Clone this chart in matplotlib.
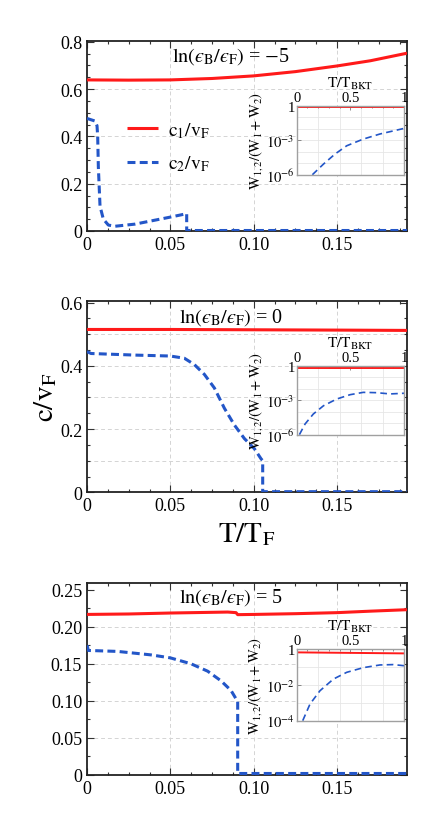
import matplotlib
matplotlib.use("Agg")
import matplotlib.pyplot as plt
from matplotlib.ticker import AutoMinorLocator, FixedLocator, FixedFormatter, MultipleLocator

plt.rcParams['font.family'] = ['Liberation Serif', 'DejaVu Serif']
plt.rcParams['mathtext.fontset'] = 'stix'

RED = '#ff1a1a'
BLUE = '#2356c8'

# ---------------- data ----------------
# Panel 1: ln(eB/eF) = -5
t1_c1 = [0, 0.025, 0.05, 0.075, 0.10, 0.125, 0.15, 0.17, 0.192]
c1_p1 = [0.639, 0.638, 0.639, 0.645, 0.656, 0.674, 0.698, 0.720, 0.752]
t1_c2 = [0, 0.0048, 0.0060, 0.0064, 0.0068, 0.0078, 0.0098, 0.0128, 0.0168,
         0.0288, 0.0388, 0.0488, 0.0590, 0.0598, 0.0598, 0.192]
c2_p1 = [0.476, 0.465, 0.445, 0.40, 0.27, 0.105, 0.050, 0.025, 0.020,
         0.029, 0.043, 0.057, 0.072, 0.074, 0.002, 0.002]
i1_x_c1 = [0, 1.0]
i1_w1 = [0.72, 0.72]
i1_x_c2 = [0.146, 0.25, 0.357, 0.466, 0.62, 0.776, 1.0]
i1_w2 = [1.0e-6, 8.5e-6, 6.3e-5, 3.3e-4, 1.26e-3, 3.5e-3, 1.07e-2]

# Panel 2: ln(eB/eF) = 0
t2_c1 = [0, 0.05, 0.10, 0.15, 0.192]
c1_p2 = [0.515, 0.515, 0.514, 0.513, 0.512]
t2_c2 = [0, 0.0024, 0.0284, 0.05, 0.0584, 0.0644, 0.0704, 0.0764, 0.0824,
         0.0884, 0.0944, 0.1004, 0.1044, 0.1054, 0.1054, 0.192]
c2_p2 = [0.445, 0.439, 0.434, 0.431, 0.424, 0.404, 0.373, 0.330, 0.266,
         0.213, 0.170, 0.138, 0.106, 0.100, 0.002, 0.002]
i2_x_c1 = [0, 1.0]
i2_w1 = [0.68, 0.68]
i2_x_c2 = [0.025, 0.078, 0.155, 0.25, 0.373, 0.497, 0.62, 0.745, 0.87, 1.0]
i2_w2 = [1.0e-6, 8.5e-6, 6.3e-5, 3.3e-4, 1.26e-3, 3.0e-3, 4.8e-3, 4.5e-3, 3.5e-3, 4.0e-3]

# Panel 3: ln(eB/eF) = 5
t3_c1 = [0, 0.025, 0.05, 0.0844, 0.0894, 0.0904, 0.10, 0.125, 0.15, 0.17, 0.192]
c1_p3 = [0.2166, 0.2172, 0.2185, 0.2198, 0.2190, 0.2163, 0.2166, 0.2176, 0.2190, 0.2210, 0.2230]
t3_c2 = [0, 0.0008, 0.0184, 0.0384, 0.05, 0.0624, 0.0724, 0.0804, 0.0864,
         0.0894, 0.0904, 0.0904, 0.192]
c2_p3 = [0.175, 0.168, 0.1667, 0.162, 0.158, 0.150, 0.140, 0.127, 0.114,
         0.1027, 0.100, 0.002, 0.002]
i3_x_c1 = [0, 1.0]
i3_w1 = [0.65, 0.57]
i3_x_c2 = [0.056, 0.124, 0.217, 0.342, 0.466, 0.62, 0.776, 0.9, 1.0]
i3_w2 = [1.0e-4, 8.5e-4, 4.7e-3, 2.1e-2, 5.0e-2, 9.1e-2, 0.129, 0.135, 0.117]

EPS = '\u03f5'
panel_titles = [r'$\mathrm{ln}(' + EPS + r'_\mathrm{B}/' + EPS + r'_\mathrm{F})$ = $-$5',
                r'$\mathrm{ln}(' + EPS + r'_\mathrm{B}/' + EPS + r'_\mathrm{F})$ = 0',
                r'$\mathrm{ln}(' + EPS + r'_\mathrm{B}/' + EPS + r'_\mathrm{F})$ = 5']
title_y = [0.92, 0.92, 0.93]
x_ticks = [0, 0.05, 0.10, 0.15]
x_ticklabels = ['0', '0.05', '0.10', '0.15']
y_ticks = [[0, 0.2, 0.4, 0.6, 0.8], [0, 0.2, 0.4, 0.6], [0, 0.05, 0.10, 0.15, 0.20, 0.25]]
y_ticklabels = [['0', '0.2', '0.4', '0.6', '0.8'], ['0', '0.2', '0.4', '0.6'],
                ['0', '0.05', '0.10', '0.15', '0.20', '0.25']]
y_lims = [(0, 0.805), (0, 0.605), (0, 0.259)]
y_minor_sub = [4, 4, 2]
grid_y = [[0.2, 0.4, 0.6], [0.1, 0.2, 0.3, 0.4, 0.5], [0.05, 0.10, 0.15, 0.20]]
inset_yticks = [[1e-6, 1e-3, 1], [1e-6, 1e-3, 1], [1e-4, 1e-2, 1]]
inset_yticklabels = [[r'$10^{-6}$', r'$10^{-3}$', '1'], [r'$10^{-6}$', r'$10^{-3}$', '1'],
                     [r'$10^{-4}$', r'$10^{-2}$', '1']]
inset_ylims = [(1e-6, 1), (1e-6, 1), (1e-4, 1)]

data = [
    (t1_c1, c1_p1, t1_c2, c2_p1, i1_x_c1, i1_w1, i1_x_c2, i1_w2),
    (t2_c1, c1_p2, t2_c2, c2_p2, i2_x_c1, i2_w1, i2_x_c2, i2_w2),
    (t3_c1, c1_p3, t3_c2, c2_p3, i3_x_c1, i3_w1, i3_x_c2, i3_w2),
]

# ---------------- layout ----------------
fig = plt.figure(figsize=(4.31, 8.2), dpi=100)
main_rects = [(0.2019, 0.7171, 0.7425, 0.2321),
              (0.2019, 0.3984, 0.7425, 0.2333),
              (0.2019, 0.0537, 0.7425, 0.2341)]
inset_rects = [(0.6884, 0.7857, 0.249, 0.0841),
               (0.6884, 0.4687, 0.249, 0.0841),
               (0.6884, 0.1199, 0.249, 0.0874)]

GRIDC = '#d4d4d4'

for k in range(3):
    tc1, vc1, tc2, vc2, ix1, iw1, ix2, iw2 = data[k]
    ax = fig.add_axes(main_rects[k])
    ax.plot(tc1, vc1, color=RED, lw=2.2, solid_capstyle='butt', label=r'$\mathrm{c}_1/\mathrm{v}_\mathrm{F}$', zorder=3)
    ax.plot(tc2, vc2, color=BLUE, lw=2.2, dashes=(2.6, 1.4), label=r'$\mathrm{c}_2/\mathrm{v}_\mathrm{F}$', zorder=3)
    ax.set_xlim(0, 0.192)
    ax.set_ylim(*y_lims[k])
    ax.xaxis.set_major_locator(FixedLocator(x_ticks))
    ax.xaxis.set_major_formatter(FixedFormatter(x_ticklabels))
    ax.yaxis.set_major_locator(FixedLocator(y_ticks[k]))
    ax.yaxis.set_major_formatter(FixedFormatter(y_ticklabels[k]))
    ax.xaxis.set_minor_locator(MultipleLocator(0.0125))
    ax.yaxis.set_minor_locator(AutoMinorLocator(y_minor_sub[k]))
    ax.tick_params(which='both', direction='in', top=True, right=True, labelsize=13, width=0.8, color='#333333')
    ax.tick_params(which='major', length=5)
    ax.tick_params(which='minor', length=2.5)
    for s in ax.spines.values():
        s.set_linewidth(1.3)
        s.set_color('#222222')
    for gx in [0.05, 0.10, 0.15]:
        ax.axvline(gx, color=GRIDC, lw=0.7, ls=(0, (4, 3)), zorder=0)
    for gy in grid_y[k]:
        ax.axhline(gy, color=GRIDC, lw=0.7, ls=(0, (4, 3)), zorder=0)
    ax.text(0.45, title_y[k], panel_titles[k], transform=ax.transAxes, ha='center', va='center', fontsize=14.5)
    if k == 0:
        ax.legend(loc='upper left', bbox_to_anchor=(0.07, 0.675), frameon=False, fontsize=14,
                  handlelength=1.6, handletextpad=0.5, labelspacing=0.7)
    if k == 1:
        ax.set_ylabel(r'$\mathrm{c}/\mathrm{v}_\mathrm{F}$', fontsize=21, labelpad=0.5)
        ax.set_xlabel(r'$\mathrm{T}/\mathrm{T}_\mathrm{F}$', fontsize=21, labelpad=4)

    ins = fig.add_axes(inset_rects[k])
    ins.plot(ix1, iw1, color=RED, lw=1.4)
    ins.plot(ix2, iw2, color=BLUE, lw=1.2, dashes=(4, 2.5))
    ins.set_yscale('log')
    ins.set_xlim(0, 1)
    ins.set_ylim(*inset_ylims[k])
    ins.xaxis.tick_top()
    ins.xaxis.set_label_position('top')
    ins.set_xticks([0, 0.5, 1])
    ins.set_xticklabels(['0', '0.5', '1'])
    ins.xaxis.set_minor_locator(FixedLocator([0.1, 0.2, 0.3, 0.4, 0.6, 0.7, 0.8, 0.9]))
    ins.set_yticks(inset_yticks[k])
    ins.set_yticklabels(inset_yticklabels[k])
    ins.yaxis.set_minor_locator(FixedLocator([]))
    ins.tick_params(which='both', direction='in', labelsize=10.5, pad=1.5, color='#777777', width=0.6)
    ins.tick_params(which='major', length=3)
    ins.tick_params(which='minor', length=1.5)
    ins.set_xlabel(r'$\mathrm{T}/\mathrm{T}_\mathrm{BKT}$', fontsize=11, labelpad=3)
    ins.set_ylabel(r'$\mathrm{W}_{1,2}/(\mathrm{W}_1+\mathrm{W}_2)$', fontsize=10.5, labelpad=1)
    for s in ins.spines.values():
        s.set_linewidth(1.0)
        s.set_color('#a0a0a0')
    ins.patch.set_facecolor('white')
    for gx in [0.2, 0.4, 0.6, 0.8]:
        ins.axvline(gx, color='#e6e6e6', lw=0.6, zorder=0)
    dec = inset_ylims[k][0]
    while dec < 1.0:
        ins.axhline(dec, color='#e6e6e6', lw=0.6, zorder=0)
        dec *= 10

fig.savefig('out.png', dpi=100)
